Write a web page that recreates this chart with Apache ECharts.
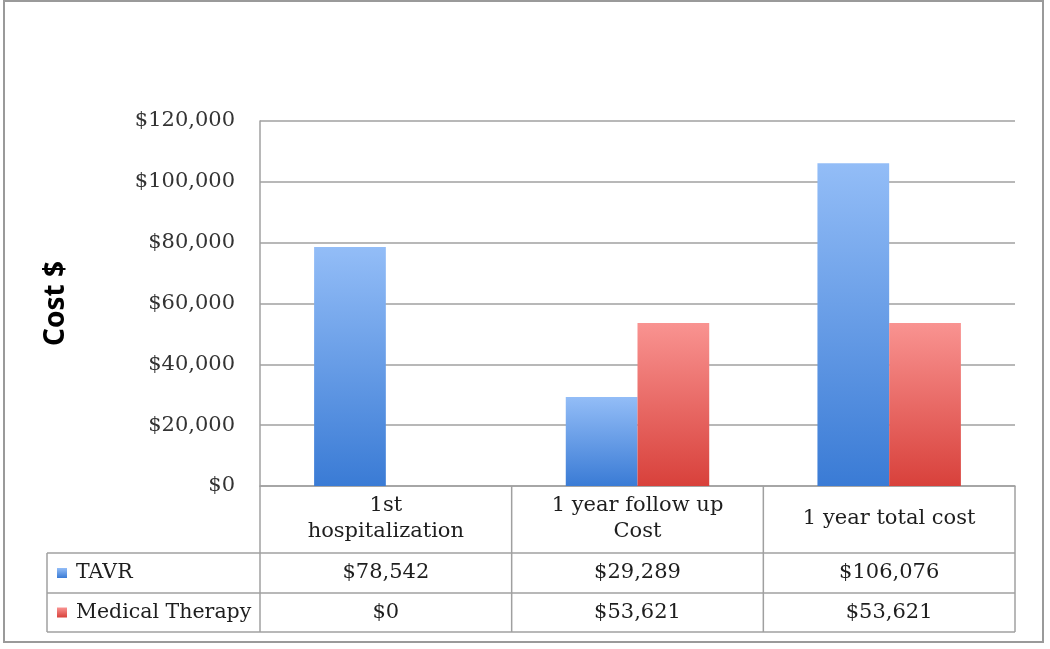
<!DOCTYPE html>
<html>
<head>
<meta charset="utf-8">
<script src="https://cdn.jsdelivr.net/npm/echarts@6/dist/echarts.min.js"></script>
<style>html,body{margin:0;padding:0;background:#fff}#c{width:1050px;height:649px}</style>
</head>
<body>
<div id="c"></div>
<script>
const categories = ['1st\nhospitalization', '1 year follow up\nCost', '1 year total cost'];
const seriesNames = ['TAVR', 'Medical Therapy'];
const tavr = [78542, 29289, 106076];
const medical = [0, 53621, 53621];
const yTicks = [0, 20000, 40000, 60000, 80000, 100000, 120000];

const fmt = v => '$' + v.toLocaleString('en-US');
const SERIF = '"DejaVu Serif", serif';
const GL = 260, GR = 1015, GT = 121, GB = 486;
const rowTop = 553, rowMid = 593, rowBot = 632, tableLeft = 47;
const lineCol = '#a0a0a0';

const blueGrad = new echarts.graphic.LinearGradient(0, 0, 0, 1, [
  {offset: 0, color: '#93bdf7'}, {offset: 1, color: '#3a7bd5'}]);
const redGrad = new echarts.graphic.LinearGradient(0, 0, 0, 1, [
  {offset: 0, color: '#f99391'}, {offset: 1, color: '#d8413b'}]);

const chart = echarts.init(document.getElementById('c'));
const colW = (GR - GL) / categories.length;

const graphics = [];
graphics.push({type: 'rect', shape: {x: 4, y: 1, width: 1039, height: 641},
  style: {fill: 'none', stroke: '#9a9a9a', lineWidth: 2}, silent: true});
[rowTop, rowMid, rowBot].forEach(y => graphics.push({type: 'line',
  shape: {x1: tableLeft, y1: y, x2: GR, y2: y}, style: {stroke: lineCol, lineWidth: 1.5}}));
graphics.push({type: 'line', shape: {x1: tableLeft, y1: rowTop, x2: tableLeft, y2: rowBot},
  style: {stroke: lineCol, lineWidth: 1.5}});
for (let i = 0; i <= categories.length; i++) {
  const x = GL + i * colW;
  graphics.push({type: 'line', shape: {x1: x, y1: GB, x2: x, y2: rowBot},
    style: {stroke: lineCol, lineWidth: 1.5}});
}
const legendFills = [blueGrad, redGrad];
seriesNames.forEach((n, i) => {
  const cy = i === 0 ? (rowTop + rowMid) / 2 : (rowMid + rowBot) / 2;
  graphics.push({type: 'rect', shape: {x: 57, y: cy - 5, width: 10, height: 10},
    style: {fill: legendFills[i]}});
  graphics.push({type: 'text', x: 76, y: cy,
    style: {text: n, font: '20.5px ' + SERIF, fill: '#1e1e1e', textVerticalAlign: 'middle'}});
});

const option = {
  backgroundColor: '#fff',
  animation: false,
  grid: {left: GL, right: 1050 - GR, top: GT, bottom: 649 - GB, containLabel: false},
  xAxis: [
    {type: 'category', data: categories,
      axisLine: {show: true, lineStyle: {color: lineCol, width: 1.5}},
      axisTick: {show: false},
      axisLabel: {margin: 33, verticalAlign: 'middle', fontFamily: SERIF, fontSize: 21,
        color: '#1e1e1e', lineHeight: 26, interval: 0}},
    {type: 'category', data: categories, position: 'bottom',
      axisLine: {show: false}, axisTick: {show: false},
      axisLabel: {margin: (rowTop + rowMid) / 2 - GB, verticalAlign: 'middle', fontFamily: SERIF,
        fontSize: 21, color: '#1e1e1e', interval: 0, formatter: (v, i) => fmt(tavr[i])}},
    {type: 'category', data: categories, position: 'bottom',
      axisLine: {show: false}, axisTick: {show: false},
      axisLabel: {margin: (rowMid + rowBot) / 2 - GB, verticalAlign: 'middle', fontFamily: SERIF,
        fontSize: 21, color: '#1e1e1e', interval: 0, formatter: (v, i) => fmt(medical[i])}}
  ],
  yAxis: {type: 'value', min: yTicks[0], max: yTicks[yTicks.length - 1], interval: yTicks[1] - yTicks[0],
    name: 'Cost $', nameLocation: 'middle', nameRotate: 90, nameGap: 190,
    nameTextStyle: {fontFamily: '"Noto Sans", sans-serif', fontWeight: 'bold', fontSize: 28, color: '#000'},
    axisLine: {show: true, lineStyle: {color: lineCol, width: 1.5}},
    axisTick: {show: false},
    axisLabel: {margin: 25, fontFamily: SERIF, fontSize: 21, color: '#333', formatter: v => fmt(v)},
    splitLine: {lineStyle: {color: lineCol, width: 1.5}}},
  series: [
    {name: seriesNames[0], type: 'bar', data: tavr, barGap: '0%', barCategoryGap: '43%',
      itemStyle: {color: blueGrad}},
    {name: seriesNames[1], type: 'bar', data: medical, barGap: '0%', barCategoryGap: '43%',
      itemStyle: {color: redGrad}}
  ],
  graphic: graphics
};
chart.setOption(option);
</script>
</body>
</html>
